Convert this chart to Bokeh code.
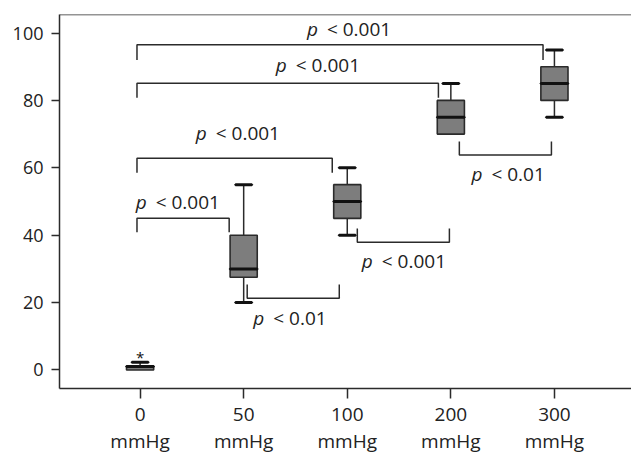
from bokeh.plotting import figure
from bokeh.models import Range1d, FixedTicker, Span, ColumnDataSource
from bokeh.core.properties import value
from bokeh.embed import file_html
from bokeh.resources import INLINE

# ---- data ----
groups = ["0", "50", "100", "200", "300"]
unit = "mmHg"
q1 = [0.0, 27.5, 45.0, 70.0, 80.0]
median = [1.0, 30.0, 50.0, 75.0, 85.0]
q3 = [1.2, 40.0, 55.0, 80.0, 90.0]
whisker_low = [0.0, 20.0, 40.0, 70.0, 75.0]
whisker_high = [2.3, 55.0, 60.0, 85.0, 95.0]
outlier_group = [0]
outlier_value = [5.0]
y_ticks = [0, 20, 40, 60, 80, 100]

# comparisons: (group a, group b, p label)
comp_a = [0, 0, 0, 0, 1, 2, 3]
comp_b = [1, 2, 3, 4, 2, 3, 4]
comp_p = ["0.001", "0.001", "0.001", "0.001", "0.01", "0.001", "0.01"]

# ---- annotation layout (bracket geometry) ----
br_x0 = [-0.03, -0.03, -0.03, -0.03, 1.034, 2.097, 3.082]
br_x1 = [0.86, 1.855, 2.88, 3.89, 1.923, 2.986, 3.971]
br_bar = [45.0, 62.8, 85.1, 96.5, 21.3, 37.9, 63.8]
br_leg = [40.9, 58.5, 80.8, 92.0, 25.4, 42.0, 67.8]
lab_x = [0.367, 0.947, 1.72, 2.02, 1.45, 2.55, 3.556]
lab_y = [49.8, 70.3, 90.6, 101.1, 15.4, 32.4, 58.3]

FONT = "Open Sans"
DARK = "#2b2b2b"

p = figure(width=631, height=456, output_backend="svg", toolbar_location=None,
           x_range=Range1d(-0.778, 4.744), y_range=Range1d(-5.5, 105.5),
           min_border_left=59, min_border_right=0, min_border_top=14,
           min_border_bottom=67)
p.outline_line_color = None
p.xgrid.visible = False
p.ygrid.visible = False
p.background_fill_color = "white"
p.border_fill_color = "white"

xs = list(range(len(groups)))
src = ColumnDataSource(dict(x=xs, q1=q1, q3=q3, med=median,
                            lo=whisker_low, hi=whisker_high))

BOX_W = 0.262
CAP_W = 0.158

# whiskers
p.segment(x0="x", y0="q3", x1="x", y1="hi", source=src, line_color=DARK, line_width=1.5)
p.segment(x0="x", y0="lo", x1="x", y1="q1", source=src, line_color=DARK, line_width=1.5)
# boxes
p.vbar(x="x", width=BOX_W, bottom="q1", top="q3", source=src,
       fill_color="#7d7d7d", line_color=DARK, line_width=1.6)
# medians
p.rect(x="x", y="med", width=BOX_W, height=0.001, source=src,
       fill_color=None, line_color="#111111", line_width=3)
# caps
cap_hi = ColumnDataSource(dict(x=[x for x, h, t in zip(xs, whisker_high, q3) if h > t],
                               y=[h for h, t in zip(whisker_high, q3) if h > t]))
cap_lo = ColumnDataSource(dict(x=[x for x, l, b in zip(xs, whisker_low, q1) if l < b],
                               y=[l for l, b in zip(whisker_low, q1) if l < b]))
for cs in (cap_hi, cap_lo):
    p.rect(x="x", y="y", width=CAP_W, height=0.001, source=cs,
           fill_color=None, line_color="#111111", line_width=3)

# outlier
p.text(x=outlier_group, y=outlier_value, text=["*"], text_font=value(FONT),
       text_font_size="15px", text_align="center", text_baseline="middle",
       text_color="#111111", y_offset=4)

# brackets
p.multi_line(xs=[[a, a, b, b] for a, b in zip(br_x0, br_x1)],
             ys=[[l, t, t, l] for l, t in zip(br_leg, br_bar)],
             line_color=DARK, line_width=1.5)

# p-value labels: italic p + regular "< value"
FS = 19
def rest_width(v):
    return FS * (0.572 + 0.26 + 0.572 * (len(v) - 1) + 0.27)
p_w = 10.5
gap = 9.0
for x, y, v in zip(lab_x, lab_y, comp_p):
    W = p_w + gap + rest_width(v)
    left = -W / 2
    p.text(x=[x], y=[y], text=["p"], text_font=value(FONT), text_font_style="italic",
           text_font_size=f"{FS}px", text_align="right", text_baseline="middle",
           text_color="#222222", x_offset=left + p_w)
    p.text(x=[x], y=[y], text=["< " + v], text_font=value(FONT),
           text_font_size=f"{FS}px", text_align="left", text_baseline="middle",
           text_color="#222222", x_offset=left + p_w + gap)

# top frame line
p.add_layout(Span(location=105.5, dimension="width", line_color=DARK, line_width=1.5))

# axes
for ax in (p.xaxis[0], p.yaxis[0]):
    ax.axis_line_color = DARK
    ax.axis_line_width = 1.5
    ax.major_tick_line_color = DARK
    ax.major_tick_line_width = 1.5
    ax.major_tick_in = 0
    ax.minor_tick_line_color = None
    ax.major_label_text_font = FONT
    ax.major_label_text_color = "#222222"

p.yaxis.ticker = FixedTicker(ticks=y_ticks)
p.yaxis.major_tick_out = 8
p.yaxis.major_label_text_font_size = "18px"
p.yaxis.major_label_standoff = 8

p.xaxis.ticker = FixedTicker(ticks=xs)
p.xaxis.major_label_overrides = {i: f"{g}\n{unit}" for i, g in enumerate(groups)}
p.xaxis.major_tick_out = 10
p.xaxis.major_label_text_font_size = "19px"
p.xaxis.major_label_standoff = 2
p.xaxis.major_label_text_line_height = 1.05

open("out.html", "w").write(file_html(p, INLINE))
